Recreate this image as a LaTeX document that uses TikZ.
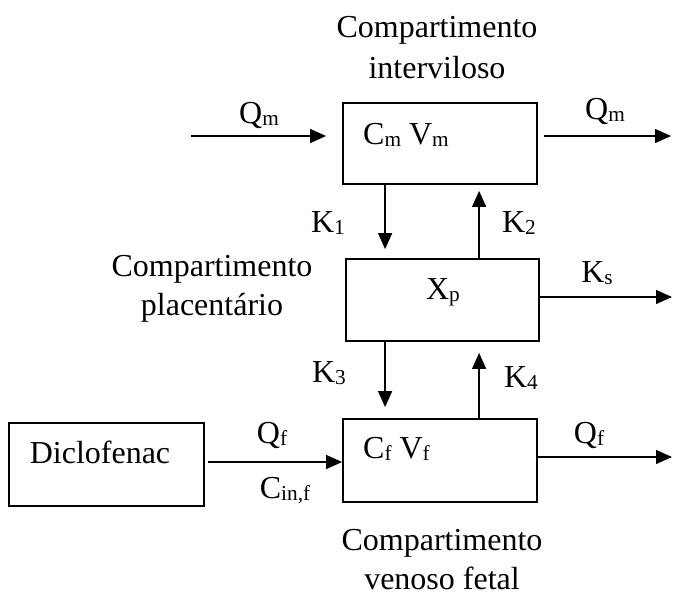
\documentclass[tikz,border=0pt]{standalone}
\usepackage{fontspec}
\setmainfont{Liberation Serif}
\usetikzlibrary{arrows.meta}
\newcommand{\sbs}[1]{\raisebox{-2.5pt}{\fontsize{21.3}{22}\selectfont #1}}
\tikzset{
  box/.style={draw, line width=1.8pt, inner sep=0pt},
  lbl/.style={inner sep=0pt, anchor=base},
  arr/.style={line width=1.3pt, -{Triangle[length=16pt,width=14pt]}},
  ln/.style={line width=1.3pt}
}
\begin{document}
\begin{tikzpicture}[x=1pt,y=-1pt,font=\fontsize{32}{39}\selectfont]
\useasboundingbox (0,0) rectangle (673,595);
% boxes
\node[box, minimum width=194pt, minimum height=81pt] (top) at (440,143.5) {};
\node[box, minimum width=193pt, minimum height=82pt] (mid) at (442.5,300) {};
\node[box, minimum width=194pt, minimum height=83pt] (bot) at (440,460.5) {};
\node[box, minimum width=195pt, minimum height=83pt] (dic) at (106.5,464.5) {};
% box texts
\node[lbl, anchor=base west] (cmvm) at (363,144) {C\sbs{m} V\sbs{m}};
\node[lbl] (xp) at (443,299) {X\sbs{p}};
\node[lbl, anchor=base west] (cfvf) at (363,458) {C\sbs{f} V\sbs{f}};
\node[lbl] (dtext) at (100,463) {Diclofenac};
% compartment captions
\node[lbl] (t1a) at (437,37) {Compartimento};
\node[lbl] (t1b) at (437,78) {interviloso};
\node[lbl] (t2a) at (212,276) {Compartimento};
\node[lbl] (t2b) at (212,315) {placentário};
\node[lbl] (t3a) at (442,550) {Compartimento};
\node[lbl] (t3b) at (442,589) {venoso fetal};
% free ends
\coordinate (qmin) at (191,136);
\coordinate (qmout) at (671,136);
\coordinate (ksout) at (672,297);
\coordinate (qfout) at (672,457);
% connectors
\draw[arr] (qmin) -- ([xshift=-16pt,yshift=7.5pt]top.west);
\draw[arr] ([xshift=6pt,yshift=7.5pt]top.east) -- (qmout);
\draw[arr] ([xshift=43pt]top.south west) -- ([xshift=40pt,yshift=9pt]mid.north west);
\draw[arr] ([xshift=134pt]mid.north west) -- ([xshift=137pt,yshift=-6pt]top.south west);
\draw[arr] ([yshift=3pt]mid.east) -- (ksout);
\draw[arr] ([xshift=40pt]mid.south west) -- ([xshift=43pt,yshift=11pt]bot.north west);
\draw[arr] ([xshift=137pt]bot.north west) -- ([xshift=134pt,yshift=-11pt]mid.south west);
\draw[arr] ([xshift=3pt,yshift=2.5pt]dic.east) -- ([yshift=-1.5pt]bot.west);
\draw[arr] ([yshift=3.5pt]bot.east) -- (qfout);
% connector labels
\node[lbl] (lqm1) at (259,123) {Q\sbs{m}};
\node[lbl] (lqm2) at (605,119) {Q\sbs{m}};
\node[lbl] (lk1) at (328,232) {K\sbs{1}};
\node[lbl] (lk2) at (519,232) {K\sbs{2}};
\node[lbl] (lks) at (597,282) {K\sbs{s}};
\node[lbl] (lk3) at (329,382) {K\sbs{3}};
\node[lbl] (lk4) at (521,387) {K\sbs{4}};
\node[lbl] (lqf1) at (272,443) {Q\sbs{f}};
\node[lbl] (lcin) at (285,498) {C\sbs{in,f}};
\node[lbl] (lqf2) at (589,443) {Q\sbs{f}};
\end{tikzpicture}
\end{document}
